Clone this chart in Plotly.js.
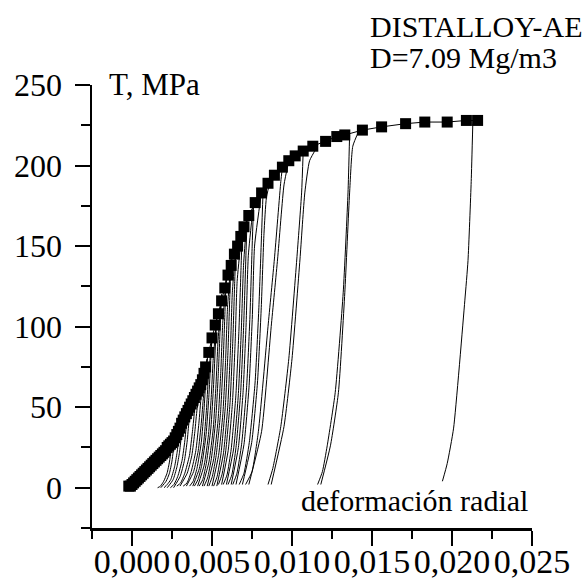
<!DOCTYPE html>
<html>
<head>
<meta charset="utf-8">
<script src="https://cdn.plot.ly/plotly-3.0.1.min.js"></script>
<style>html,body{margin:0;padding:0;background:#fff;}#chart{width:585px;height:581px;}</style>
</head>
<body>
<div id="chart"></div>
<script>
// Envelope (monotonic loading curve, square markers)
const envX = [-0.0002, -0.0001, 0.0000, 0.0001, 0.0002, 0.0003, 0.0004, 0.0005, 0.0006, 0.0007, 0.0008, 0.0009, 0.0010, 0.0011, 0.0012, 0.0013, 0.0014, 0.0015, 0.0016, 0.0017, 0.0018, 0.0019, 0.0020, 0.0021, 0.0022, 0.0023, 0.0024, 0.0025, 0.0026, 0.0027, 0.0028, 0.0029, 0.0030, 0.0031, 0.0032, 0.0033, 0.0034, 0.0035, 0.0036, 0.0037, 0.0038, 0.0039, 0.0040, 0.0041, 0.0042, 0.0043, 0.0044, 0.0045, 0.0046, 0.0048, 0.0050, 0.0052, 0.0054, 0.0056, 0.0058, 0.0060, 0.0062, 0.0064, 0.0066, 0.0068, 0.0070, 0.0073, 0.0077, 0.0081, 0.0085, 0.0089, 0.0094, 0.0098, 0.0102, 0.0107, 0.0113, 0.0121, 0.0128, 0.0133, 0.0144, 0.0156, 0.0171, 0.0183, 0.0197, 0.0209, 0.0216];
const envY = [1, 1, 2, 3, 4, 5, 6, 7, 8, 9, 10, 11, 12, 13, 14, 15, 16, 17, 18, 19, 20, 21, 22, 23, 25, 26, 27, 28, 29, 31, 33, 35, 37, 40, 42, 44, 46, 48, 50, 52, 54, 56, 58, 60, 62, 64, 67, 71, 75, 84, 93, 101, 108, 116, 124, 132, 138, 145, 150, 156, 162, 169, 177, 183, 189, 194, 199, 203, 206, 209, 212, 215, 218, 219, 222, 224, 226, 227, 227, 228, 228];

// Unloading branches (from foot at T~0 up to the peak on the envelope)
const unloadX = [
  [0.0016, 0.00178, 0.00198, 0.00219, 0.00234, 0.00244, 0.0025],
  [0.0020, 0.0022, 0.00242, 0.00266, 0.00282, 0.00293, 0.0030],
  [0.0024, 0.00262, 0.00286, 0.00313, 0.0033, 0.00342, 0.0035],
  [0.0028, 0.00304, 0.0033, 0.00359, 0.00378, 0.00392, 0.0040],
  [0.0032, 0.00344, 0.0037, 0.00399, 0.00418, 0.00432, 0.0044],
  [0.0036, 0.00382, 0.00406, 0.00433, 0.0045, 0.00462, 0.0047],
  [0.0039, 0.00412, 0.00436, 0.00463, 0.0048, 0.00492, 0.0050],
  [0.0042, 0.00442, 0.00466, 0.00493, 0.0051, 0.00522, 0.0053],
  [0.0045, 0.00472, 0.00496, 0.00523, 0.0054, 0.00552, 0.0056],
  [0.0048, 0.00502, 0.00526, 0.00553, 0.0057, 0.00582, 0.0059],
  [0.0051, 0.00532, 0.00556, 0.00583, 0.0060, 0.00612, 0.0062],
  [0.0054, 0.00562, 0.00586, 0.00613, 0.0063, 0.00642, 0.0065],
  [0.0057, 0.00594, 0.0062, 0.00649, 0.00668, 0.00682, 0.0069],
  [0.0060, 0.00624, 0.0065, 0.00679, 0.00698, 0.00712, 0.0072],
  [0.0063, 0.00656, 0.00685, 0.00716, 0.00737, 0.00751, 0.0076],
  [0.0067, 0.0070, 0.00733, 0.00769, 0.00793, 0.0081, 0.0082],
  [0.0071, 0.0075, 0.0079, 0.0085, 0.0089, 0.0093, 0.0094],
  [0.0085, 0.0088, 0.0093, 0.0098, 0.0103, 0.0106, 0.0107],
  [0.0116, 0.0119, 0.0122, 0.0127, 0.0132, 0.0135, 0.0136],
  [0.0194, 0.0197, 0.0201, 0.0208, 0.0210, 0.0212, 0.0213]
];
const unloadY = [
  [0, 1, 4, 9, 16, 23, 27],
  [0, 2, 5, 13, 22, 31, 36],
  [0, 2, 7, 17, 29, 41, 48],
  [1, 3, 9, 20, 35, 49, 58],
  [1, 3, 10, 23, 40, 57, 67],
  [1, 4, 12, 28, 48, 68, 80],
  [1, 5, 14, 33, 56, 79, 93],
  [1, 5, 16, 37, 64, 90, 106],
  [1, 6, 18, 42, 72, 102, 120],
  [1, 7, 20, 46, 79, 112, 132],
  [1, 7, 21, 50, 85, 121, 142],
  [2, 8, 23, 53, 91, 128, 151],
  [2, 8, 24, 57, 97, 138, 162],
  [2, 8, 25, 59, 101, 144, 169],
  [2, 9, 27, 62, 106, 150, 177],
  [2, 9, 28, 65, 112, 158, 186],
  [2, 10, 35, 100, 142, 190, 199],
  [2, 12, 38, 80, 142, 183, 209],
  [2, 10, 26, 59, 121, 183, 219],
  [4, 15, 37, 116, 141, 190, 226]
];
// Reloading branches (from foot back up to the envelope)
const reloadX = [
  [0.0018, 0.00213, 0.00234, 0.00249, 0.00259, 0.0030],
  [0.0022, 0.00257, 0.00281, 0.00297, 0.00308, 0.0035],
  [0.0026, 0.00301, 0.00328, 0.00345, 0.00357, 0.0040],
  [0.0030, 0.00345, 0.00374, 0.00393, 0.00407, 0.0044],
  [0.0034, 0.00385, 0.00414, 0.00433, 0.00447, 0.0047],
  [0.0038, 0.00421, 0.00448, 0.00465, 0.00477, 0.0050],
  [0.0041, 0.00451, 0.00478, 0.00495, 0.00507, 0.0053],
  [0.0044, 0.00481, 0.00508, 0.00525, 0.00537, 0.0056],
  [0.0047, 0.00511, 0.00538, 0.00555, 0.00567, 0.0059],
  [0.0050, 0.00541, 0.00568, 0.00585, 0.00597, 0.0062],
  [0.0053, 0.00571, 0.00598, 0.00615, 0.00627, 0.0065],
  [0.0056, 0.00601, 0.00628, 0.00645, 0.00657, 0.0069],
  [0.0059, 0.00635, 0.00664, 0.00683, 0.00697, 0.0072],
  [0.0062, 0.00665, 0.00694, 0.00713, 0.00727, 0.0076],
  [0.0065, 0.0070, 0.00731, 0.00752, 0.00766, 0.0081],
  [0.0069, 0.00748, 0.00784, 0.00808, 0.00825, 0.0084, 0.0087],
  [0.0073, 0.0081, 0.0087, 0.0091, 0.0095, 0.0098],
  [0.0087, 0.0095, 0.0100, 0.0105, 0.0108, 0.0111, 0.0116],
  [0.0118, 0.0124, 0.0129, 0.0133, 0.0136, 0.0138, 0.0142]
];
const reloadY = [
  [0, 4, 9, 16, 23, 36],
  [0, 5, 13, 22, 31, 48],
  [0, 7, 17, 29, 41, 58],
  [1, 9, 20, 35, 49, 67],
  [1, 10, 23, 40, 57, 80],
  [1, 12, 28, 48, 68, 93],
  [1, 14, 33, 56, 79, 106],
  [1, 16, 37, 64, 90, 120],
  [1, 18, 42, 72, 102, 132],
  [1, 20, 46, 79, 112, 142],
  [1, 21, 50, 85, 121, 151],
  [2, 23, 53, 91, 128, 162],
  [2, 24, 57, 97, 138, 169],
  [2, 25, 59, 101, 144, 177],
  [2, 27, 62, 106, 150, 184],
  [2, 28, 65, 112, 158, 180, 193],
  [2, 35, 100, 142, 188, 203],
  [2, 38, 80, 142, 183, 203, 212],
  [2, 26, 59, 121, 183, 212, 222]
];

const xTickVals = [0, 0.005, 0.010, 0.015, 0.020, 0.025];
const xTickText = ['0,000', '0,005', '0,010', '0,015', '0,020', '0,025'];
const yTickVals = [0, 50, 100, 150, 200, 250];
const yTickText = ['0', '50', '100', '150', '200', '250'];

const serif = 'Liberation Serif';
const traces = [];
for (let i = 0; i < unloadX.length; i++) {
  traces.push({x: unloadX[i], y: unloadY[i], mode: 'lines', type: 'scatter',
    line: {color: '#000', width: 1, shape: 'spline', smoothing: 0.5}, hoverinfo: 'skip', showlegend: false});
}
for (let i = 0; i < reloadX.length; i++) {
  traces.push({x: reloadX[i], y: reloadY[i], mode: 'lines', type: 'scatter',
    line: {color: '#000', width: 1, shape: 'spline', smoothing: 0.5}, hoverinfo: 'skip', showlegend: false});
}
traces.push({x: envX, y: envY, mode: 'lines+markers', type: 'scatter',
  line: {color: '#000', width: 1}, marker: {symbol: 'square', size: 11, color: '#000'}, showlegend: false});

const layout = {
  width: 585, height: 581,
  margin: {l: 92, r: 53, t: 85, b: 53},
  paper_bgcolor: '#fff', plot_bgcolor: '#fff',
  showlegend: false,
  font: {family: serif, color: '#000', size: 32},
  xaxis: {
    range: [-0.0025, 0.025], showgrid: false, zeroline: false,
    showline: true, linecolor: '#000', linewidth: 2.5,
    tickmode: 'array', tickvals: xTickVals, ticktext: xTickText,
    ticks: 'outside', ticklen: 15, tickwidth: 2, tickcolor: '#000',
    ticklabelstandoff: -13,
    tickfont: {family: serif, size: 34, color: '#000'},
    minor: {tickmode: 'linear', tick0: -0.0025, dtick: 0.005, ticks: 'outside', ticklen: 8, tickwidth: 2, tickcolor: '#000', showgrid: false}
  },
  yaxis: {
    range: [-25, 250], showgrid: false, zeroline: false,
    showline: true, linecolor: '#000', linewidth: 2.5,
    tickmode: 'array', tickvals: yTickVals, ticktext: yTickText,
    ticks: 'outside', ticklen: 15, tickwidth: 2, tickcolor: '#000',
    ticklabelstandoff: 6,
    tickfont: {family: serif, size: 32, color: '#000'},
    minor: {tickmode: 'linear', tick0: -25, dtick: 50, ticks: 'outside', ticklen: 9, tickwidth: 2, tickcolor: '#000', showgrid: false}
  },
  annotations: [
    {text: 'T, MPa', xref: 'paper', yref: 'paper', x: 0.034, y: 1.002, xanchor: 'left', yanchor: 'middle', showarrow: false, font: {family: serif, size: 31, color: '#000'}},
    {text: 'DISTALLOY-AE', xref: 'paper', yref: 'paper', x: 0.627, y: 1.131, xanchor: 'left', yanchor: 'middle', showarrow: false, font: {family: serif, size: 30, color: '#000'}},
    {text: 'D=7.09 Mg/m3', xref: 'paper', yref: 'paper', x: 0.627, y: 1.061, xanchor: 'left', yanchor: 'middle', showarrow: false, font: {family: serif, size: 30, color: '#000'}},
    {text: 'deformación radial', xref: 'paper', yref: 'paper', x: 0.470, y: 0.061, xanchor: 'left', yanchor: 'middle', showarrow: false, font: {family: serif, size: 30, color: '#000'}}
  ]
};
Plotly.newPlot('chart', traces, layout, {displayModeBar: false, staticPlot: true});
</script>
</body>
</html>
